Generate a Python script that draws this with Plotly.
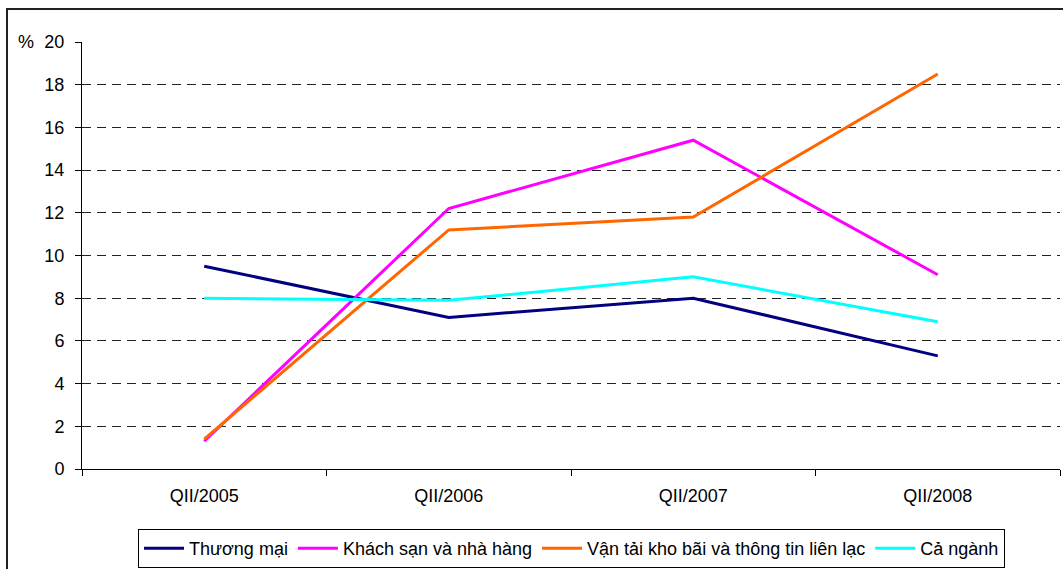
import plotly.graph_objects as go

# Quarterly growth rates (%) by sector
quarters = ["QII/2005", "QII/2006", "QII/2007", "QII/2008"]
thuong_mai = [9.5, 7.1, 8.0, 5.3]
khach_san = [1.3, 12.2, 15.4, 9.1]
van_tai = [1.4, 11.2, 11.8, 18.5]
ca_nganh = [8.0, 7.9, 9.0, 6.9]

series = [
    ("Thương mại", thuong_mai, "#000080"),
    ("Khách sạn và nhà hàng", khach_san, "#FF00FF"),
    ("Vận tải kho bãi và thông tin liên lạc", van_tai, "#FF6600"),
    ("Cả ngành", ca_nganh, "#00FFFF"),
]

W, H = 1063, 569
ML, MR, MT, MB = 82, 3, 42, 100
pw, ph = W - ML - MR, H - MT - MB

fig = go.Figure()
for name, vals, color in series:
    fig.add_trace(go.Scatter(
        x=quarters, y=vals, name=name, mode="lines",
        line=dict(color=color, width=3),
    ))

font_family = "Arial, Liberation Sans, sans-serif"

fig.update_layout(
    width=W, height=H,
    margin=dict(l=ML, r=MR, t=MT, b=MB, pad=0, autoexpand=False),
    paper_bgcolor="white", plot_bgcolor="white",
    font=dict(family=font_family, size=18, color="black"),
    showlegend=True,
    legend=dict(
        orientation="h",
        x=(138 - ML) / pw, xanchor="left",
        y=(H - MB - 568) / ph, yanchor="bottom",
        bordercolor="black", borderwidth=1, bgcolor="white",
        font=dict(family=font_family, size=18, color="black"),
        itemwidth=40,
        tracegroupgap=0,
    ),
    xaxis=dict(
        type="category",
        range=[-0.5, 3.5],
        tickson="boundaries",
        ticks="outside", ticklen=6, tickcolor="black", tickwidth=1,
        showline=True, linecolor="black", linewidth=1,
        showgrid=False, zeroline=False,
        tickfont=dict(size=18, color="black"),
        ticklabelstandoff=10,
    ),
    yaxis=dict(
        range=[0, 20], dtick=2, tick0=0,
        ticks="outside", ticklen=6, tickcolor="black", tickwidth=1,
        showline=True, linecolor="black", linewidth=1,
        showgrid=True, gridcolor="#222222", gridwidth=1, griddash="9px,6px",
        zeroline=False,
        tickfont=dict(size=18, color="black"),
        ticklabelstandoff=7,
    ),
    annotations=[
        dict(
            text="%", xref="paper", yref="y",
            x=(26 - ML) / pw, y=20, xanchor="center", yanchor="middle",
            showarrow=False, font=dict(size=18, color="black"),
        )
    ],
    shapes=[
        # chart frame, running off the right and bottom edges
        dict(
            type="rect", xref="paper", yref="paper",
            x0=(7 - ML) / pw, x1=(W + 10 - ML) / pw,
            y0=(H - MB - (H + 10)) / ph, y1=(H - MB - 9) / ph,
            line=dict(color="#222222", width=2), fillcolor="rgba(0,0,0,0)",
            layer="below",
        )
    ],
)

fig.write_html("out.html")
